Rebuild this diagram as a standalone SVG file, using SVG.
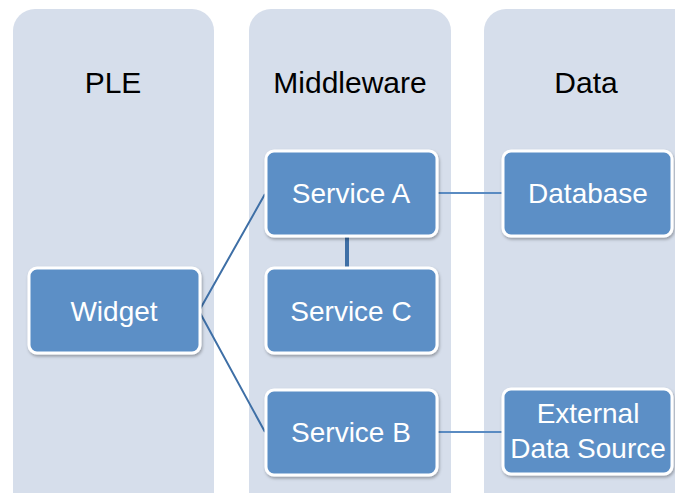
<svg xmlns="http://www.w3.org/2000/svg" width="675" height="493" viewBox="0 0 675 493">
<style>
.col{fill:#D6DEEB}
.box{fill:#5B8FC6;stroke:#FFFFFF;stroke-width:3}
.title{font-family:"Liberation Sans",Arial,sans-serif;font-size:30px;fill:#000;text-anchor:middle}
.lbl{font-family:"Liberation Sans",Arial,sans-serif;font-size:28px;fill:#FFFFFF;text-anchor:middle}
.ln{stroke:#3E6FA6;stroke-width:2;fill:none}
.ln2{stroke:#5A8BC2;stroke-width:2;fill:none}
</style>
<defs>
<filter id="sh" x="-10%" y="-10%" width="130%" height="130%">
<feDropShadow dx="1" dy="2" stdDeviation="1.5" flood-color="#000" flood-opacity="0.3"/>
</filter>
</defs>
<rect width="675" height="493" fill="#FFFFFF"/>
<g id="col-ple"><rect class="col" x="13" y="9" width="201" height="510" rx="22"/><text class="title" x="113" y="93">PLE</text></g>
<g id="col-middleware"><rect class="col" x="249" y="9" width="202" height="510" rx="22"/><text class="title" x="350" y="93">Middleware</text></g>
<g id="col-data"><rect class="col" x="484" y="9" width="220" height="510" rx="22"/><text class="title" x="586" y="93">Data</text></g>
<g id="connectors">
<path class="ln" d="M265,194 L199,311 L265,432"/>
<line class="ln2" x1="437" y1="193" x2="503" y2="193"/>
<line class="ln2" x1="437" y1="432" x2="503" y2="432"/>
<line x1="347" y1="237" x2="347" y2="268" stroke="#3E6FA6" stroke-width="4"/>
</g>
<g id="widget"><rect class="box" filter="url(#sh)" x="29" y="268" width="171" height="85" rx="8"/><text class="lbl" x="114" y="321">Widget</text></g>
<g id="service-a"><rect class="box" filter="url(#sh)" x="266" y="151" width="171" height="85" rx="8"/><text class="lbl" x="351" y="203">Service A</text></g>
<g id="service-c"><rect class="box" filter="url(#sh)" x="266" y="268" width="171" height="85" rx="8"/><text class="lbl" x="351" y="321">Service C</text></g>
<g id="service-b"><rect class="box" filter="url(#sh)" x="266" y="390" width="171" height="85" rx="8"/><text class="lbl" x="351" y="442">Service B</text></g>
<g id="database"><rect class="box" filter="url(#sh)" x="503" y="151" width="169" height="85" rx="8"/><text class="lbl" x="588" y="203">Database</text></g>
<g id="external"><rect class="box" filter="url(#sh)" x="503" y="389" width="169" height="85" rx="8"/><text class="lbl" x="588" y="423">External</text><text class="lbl" x="588" y="458">Data Source</text></g>
</svg>
